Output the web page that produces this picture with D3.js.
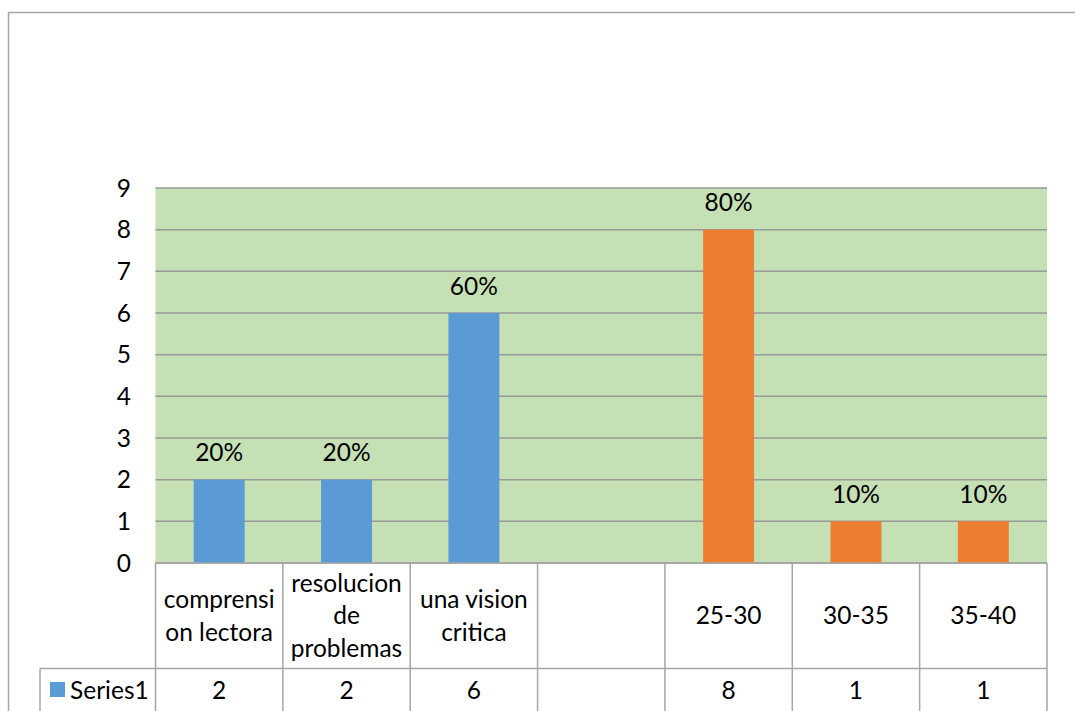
<!DOCTYPE html>
<html><head><meta charset="utf-8">
<script src="https://cdn.jsdelivr.net/npm/d3@7"></script>
<style>
html,body{margin:0;padding:0;background:#fff;overflow:hidden}
svg{display:block}
text{font-family:"Lato","Open Sans",sans-serif;fill:#000}
</style></head><body>
<svg id="c" width="1075" height="711"></svg>
<script>
const categories = [["comprensi","on lectora"],["resolucion","de","problemas"],["una vision","critica"],[""],["25-30"],["30-35"],["35-40"]];
const values = [2,2,6,null,8,1,1];
const dataLabels = ["20%","20%","60%","","80%","10%","10%"];
const barColors = ["#5B9BD5","#5B9BD5","#5B9BD5","#5B9BD5","#ED7D31","#ED7D31","#ED7D31"];
const yTicks = [0,1,2,3,4,5,6,7,8,9];
const seriesName = "Series1";

const svg = d3.select("#c");
const L = 155.5, R = 1047, T = 188, B = 563;
const rowSplit = 668.5, legendLeft = 40;
const fs = "24.5px";

svg.append("rect").attr("x",8.5).attr("y",12.5).attr("width",1100).attr("height",800)
  .attr("fill","#fff").attr("stroke","#a6a6a6").attr("stroke-width",1.5);

const x = d3.scaleBand().domain(d3.range(categories.length)).range([L,R]).paddingInner(0).paddingOuter(0);
const y = d3.scaleLinear().domain([0,9]).range([B,T]);

svg.append("rect").attr("x",L).attr("y",T).attr("width",R-L).attr("height",B-T).attr("fill","#C5E0B4");

svg.append("g").selectAll("line").data(yTicks).join("line")
  .attr("x1",L).attr("x2",R).attr("y1",d=>y(d)).attr("y2",d=>y(d))
  .attr("stroke","#999").attr("stroke-width",1.5);

svg.append("g").selectAll("text").data(yTicks).join("text")
  .attr("x",131).attr("y",d=>y(d)).attr("dy","0.35em").attr("text-anchor","end")
  .style("font-size",fs).text(d=>d);

const bw = x.bandwidth()*0.4;
const bars = d3.range(values.length).filter(i=>values[i]!=null);
svg.append("g").selectAll("rect").data(bars).join("rect")
  .attr("x",i=>x(i)+x.bandwidth()/2-bw/2).attr("width",bw)
  .attr("y",i=>y(values[i])).attr("height",i=>B-y(values[i]))
  .attr("fill",i=>barColors[i]);

svg.append("g").selectAll("text").data(bars).join("text")
  .attr("x",i=>x(i)+x.bandwidth()/2).attr("y",i=>y(values[i])-27)
  .attr("dy","0.35em").attr("text-anchor","middle").style("font-size",fs)
  .text(i=>dataLabels[i]);

const g = svg.append("g").attr("stroke","#a6a6a6").attr("stroke-width",1.5);
g.append("line").attr("x1",L).attr("x2",R).attr("y1",B).attr("y2",B);
g.append("line").attr("x1",legendLeft).attr("x2",R).attr("y1",rowSplit).attr("y2",rowSplit);
g.append("line").attr("x1",legendLeft).attr("x2",legendLeft).attr("y1",rowSplit).attr("y2",720);
const bounds = d3.range(categories.length+1).map(i=> i<categories.length ? x(i) : R);
g.selectAll(".v").data(bounds).join("line").attr("class","v")
  .attr("x1",d=>d).attr("x2",d=>d).attr("y1",B).attr("y2",720);

const lh = 32.5, midY = (B+rowSplit)/2;
categories.forEach((lines,i)=>{
  const cx = x(i)+x.bandwidth()/2;
  lines.forEach((t,j)=>{
    svg.append("text").attr("x",cx).attr("y",midY+(j-(lines.length-1)/2)*lh)
      .attr("dy","0.35em").attr("text-anchor","middle").style("font-size",fs).text(t);
  });
});

const rowMid = 690;
svg.append("rect").attr("x",50).attr("y",rowMid-8).attr("width",15).attr("height",15).attr("fill",barColors[0]);
svg.append("text").attr("x",70).attr("y",rowMid).attr("dy","0.35em").style("font-size",fs).text(seriesName);
values.forEach((v,i)=>{
  svg.append("text").attr("x",x(i)+x.bandwidth()/2).attr("y",rowMid).attr("dy","0.35em")
    .attr("text-anchor","middle").style("font-size",fs).text(v==null?"":v);
});
</script>
</body></html>
